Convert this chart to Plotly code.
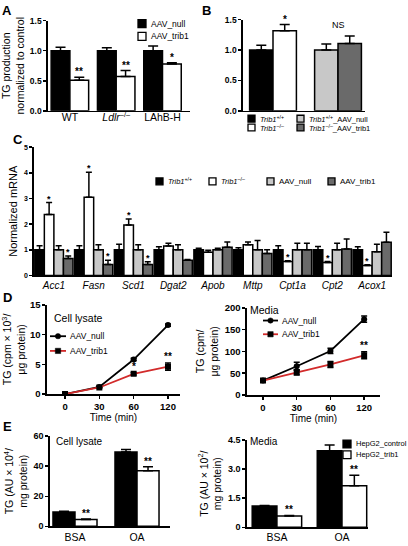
import plotly.graph_objects as go

W, H = 408, 546
def X(px): return px / W
def Y(py): return 1 - py / H

FONT = "Liberation Sans, Arial, Helvetica, sans-serif"
BLACK = "#000000"
WHITE = "#ffffff"
LIGHT = "#c8c8c8"
DARK = "#6a6a6a"
RED = "#d22b2b"

# ---------------- data ----------------
# Panel A
A_groups = ["WT", "Ldlr-/-", "LAhB-H"]
A_ticktext = ["WT", "<i>Ldlr</i><sup>–/–</sup>", "LAhB-H"]
A_null = [1.00, 1.00, 1.00]
A_null_err = [0.06, 0.05, 0.08]
A_trib1 = [0.51, 0.57, 0.78]
A_trib1_err = [0.05, 0.10, 0.02]
A_sig = ["**", "**", "*"]
A_yticks = [0.0, 0.5, 1.0, 1.5]

# Panel B
B_groups = ["Trib1", "AAV"]
B_first = [1.00, 1.00]          # Trib1+/+ , Trib1+/+_AAV_null
B_first_err = [0.08, 0.10]
B_second = [1.32, 1.11]         # Trib1-/- , Trib1-/-_AAV_trib1
B_second_err = [0.10, 0.12]
B_second_sig = ["*", ""]
B_group_note = ["", "NS"]
B_yticks = [0.0, 0.5, 1.0, 1.5]

# Panel C
C_genes = ["Acc1", "Fasn", "Scd1", "Dgat2", "Apob", "Mttp", "Cpt1a", "Cpt2", "Acox1"]
C_wt = [1.00, 1.00, 1.00, 1.00, 1.00, 1.00, 1.00, 1.00, 1.00]
C_wt_err = [0.16, 0.16, 0.22, 0.12, 0.06, 0.08, 0.16, 0.13, 0.12]
C_ko = [2.37, 3.05, 1.97, 1.15, 0.90, 1.20, 0.54, 0.50, 0.39]
C_ko_err = [0.47, 0.97, 0.23, 0.10, 0.08, 0.10, 0.03, 0.04, 0.03]
C_ko_sig = ["*", "*", "*", "", "", "", "*", "*", "*"]
C_null = [1.00, 1.00, 1.00, 1.00, 1.00, 1.00, 1.00, 1.00, 0.92]
C_null_err = [0.16, 0.20, 0.20, 0.20, 0.06, 0.36, 0.25, 0.25, 0.30]
C_trib1 = [0.66, 0.43, 0.43, 0.59, 1.10, 0.86, 1.00, 1.03, 1.29]
C_trib1_err = [0.10, 0.16, 0.10, 0.03, 0.20, 0.14, 0.25, 0.39, 0.39]
C_trib1_sig = ["*", "*", "*", "", "", "", "", "", ""]
C_yticks = [0, 1, 2, 3, 4, 5]

# Panel D
D_time = ["0", "30", "60", "120"]
D_lys_null = [0.0, 1.2, 5.8, 11.6]
D_lys_null_err = [0.1, 0.1, 0.2, 0.2]
D_lys_trib1 = [0.0, 1.1, 3.4, 4.6]
D_lys_trib1_err = [0.1, 0.1, 0.2, 0.6]
D_lys_sig = ["", "", "*", "**"]
D_med_null = [33, 66, 101, 174]
D_med_null_err = [3, 9, 6, 7]
D_med_trib1 = [33, 52, 70, 91]
D_med_trib1_err = [3, 6, 7, 8]
D_med_sig = ["", "", "*", "**"]
D_lys_yticks = [0, 5, 10, 15]
D_med_yticks = [0, 50, 100, 150, 200]

# Panel E
E_groups = ["BSA", "OA"]
E_lys_ctrl = [9.6, 49.5]
E_lys_ctrl_err = [0.5, 1.6]
E_lys_trib1 = [4.5, 37.0]
E_lys_trib1_err = [0.4, 2.6]
E_lys_sig = ["**", "**"]
E_med_ctrl = [1.10, 3.95]
E_med_ctrl_err = [0.03, 0.30]
E_med_trib1 = [0.58, 2.14]
E_med_trib1_err = [0.03, 0.55]
E_med_sig = ["**", "**"]
E_lys_yticks = [0, 20, 40, 60]
E_med_yticks = [0, 1.5, 3.0, 4.5]
E_med_yticktext = ["0", "1.5", "3.0", "4.5"]

# ---------------- figure ----------------
fig = go.Figure()
annotations = []
shapes = []

def err(arr, width=4):
    return dict(type="data", array=arr, arrayminus=[0] * len(arr), symmetric=False,
                color=BLACK, thickness=1.5, width=width)

def err_sym(arr, width=3):
    return dict(type="data", array=arr, color=BLACK, thickness=1.5, width=width)

def bar(x, y, e, color, xa, ya, w, off, ew=4):
    fig.add_trace(go.Bar(x=x, y=y, error_y=err(e, ew), width=w, offset=off,
                         marker=dict(color=color, line=dict(color=BLACK, width=1.5)),
                         xaxis=xa, yaxis=ya, showlegend=False, hoverinfo="skip"))

def star(xref, yref, x, y, text, size=10, shift=0, bold=True):
    annotations.append(dict(x=x, y=y, xref=xref, yref=yref, text=text, showarrow=False,
                            yanchor="bottom", yshift=shift,
                            font=dict(size=size, family=FONT, color=BLACK,
                                      weight="bold" if bold else "normal")))

# A
wA = 0.405
xA = list(range(len(A_groups)))
bar(xA, A_null, A_null_err, BLACK, "x", "y", wA, -wA, 5)
bar(xA, A_trib1, A_trib1_err, WHITE, "x", "y", wA, 0, 5)
for i, s in enumerate(A_sig):
    star("x", "y", i + wA / 2, A_trib1[i] + A_trib1_err[i], s, 10, -2)

# B
wB = 0.36
xB = list(range(len(B_groups)))
bar(xB, B_first, B_first_err, [BLACK, LIGHT], "x2", "y2", wB, -wB, 5)
bar(xB, B_second, B_second_err, [WHITE, DARK], "x2", "y2", wB, 0, 5)
for i, s in enumerate(B_second_sig):
    if s:
        star("x2", "y2", i + wB / 2, B_second[i] + B_second_err[i], s, 10, -2)
for i, s in enumerate(B_group_note):
    if s:
        top = max(B_first[i] + B_first_err[i], B_second[i] + B_second_err[i])
        star("x2", "y2", i, top, s, 9, 4, False)

# C
wC = 0.24
xs = list(range(len(C_genes)))
bar(xs, C_wt, C_wt_err, BLACK, "x3", "y3", wC, -2 * wC, 3)
bar(xs, C_ko, C_ko_err, WHITE, "x3", "y3", wC, -wC, 3)
bar(xs, C_null, C_null_err, LIGHT, "x3", "y3", wC, 0, 3)
bar(xs, C_trib1, C_trib1_err, DARK, "x3", "y3", wC, wC, 3)
for i in xs:
    if C_ko_sig[i]:
        star("x3", "y3", i - wC / 2, C_ko[i] + C_ko_err[i], C_ko_sig[i], 9, -3)
    if C_trib1_sig[i]:
        star("x3", "y3", i + 1.5 * wC, C_trib1[i] + C_trib1_err[i], C_trib1_sig[i], 9, -3)

# D
xD = list(range(len(D_time)))
def line(y, e, color, symbol, xa, ya):
    fig.add_trace(go.Scatter(x=xD, y=y, mode="lines+markers", error_y=err_sym(e, 3),
                             line=dict(color=color, width=1.8),
                             marker=dict(color=BLACK, symbol=symbol, size=6),
                             xaxis=xa, yaxis=ya, showlegend=False, hoverinfo="skip"))

line(D_lys_null, D_lys_null_err, BLACK, "circle", "x4", "y4")
line(D_lys_trib1, D_lys_trib1_err, RED, "square", "x4", "y4")
line(D_med_null, D_med_null_err, BLACK, "circle", "x5", "y5")
line(D_med_trib1, D_med_trib1_err, RED, "square", "x5", "y5")
for i, s in enumerate(D_lys_sig):
    if s:
        star("x4", "y4", i, D_lys_trib1[i] + D_lys_trib1_err[i], s, 10, -1)
for i, s in enumerate(D_med_sig):
    if s:
        star("x5", "y5", i, D_med_trib1[i] + D_med_trib1_err[i], s, 10, -1)

# E
wE1 = 0.355
xE = list(range(len(E_groups)))
bar(xE, E_lys_ctrl, E_lys_ctrl_err, BLACK, "x6", "y6", wE1, -wE1, 5)
bar(xE, E_lys_trib1, E_lys_trib1_err, WHITE, "x6", "y6", wE1, 0, 5)
for i, s in enumerate(E_lys_sig):
    star("x6", "y6", i + wE1 / 2, E_lys_trib1[i] + E_lys_trib1_err[i], s, 10, -2)
wE2 = 0.38
bar(xE, E_med_ctrl, E_med_ctrl_err, BLACK, "x7", "y7", wE2, -wE2, 5)
bar(xE, E_med_trib1, E_med_trib1_err, WHITE, "x7", "y7", wE2, 0, 5)
for i, s in enumerate(E_med_sig):
    star("x7", "y7", i + wE2 / 2, E_med_trib1[i] + E_med_trib1_err[i], s, 10, -2)

# ---------------- axes ----------------
def xaxis(dom, rng, anchor, tickvals=None, ticktext=None, size=10.5, style="normal",
          ticks="", title=None, visible_labels=True, standoff=0):
    d = dict(domain=[X(dom[0]), X(dom[1])], range=rng, anchor=anchor, type="linear",
             showline=True, linecolor=BLACK, linewidth=1.6, showgrid=False, zeroline=False,
             ticks=ticks, ticklen=3, tickwidth=1.5, tickcolor=BLACK,
             showticklabels=visible_labels, fixedrange=True, ticklabelstandoff=standoff,
             tickfont=dict(family=FONT, size=size, color=BLACK, style=style,
                           weight="bold" if ticks else "normal"))
    if tickvals is not None:
        d.update(tickmode="array", tickvals=tickvals, ticktext=ticktext)
    if title:
        d["title"] = dict(text=title, font=dict(family=FONT, size=10, color=BLACK), standoff=1)
    return d

def yaxis(dom, rng, anchor, tickvals, ticktext, size=8.5, title=None, tsize=10.5, standoff=4):
    d = dict(domain=[Y(dom[1]), Y(dom[0])], range=rng, anchor=anchor,
             showline=True, linecolor=BLACK, linewidth=1.6, showgrid=False, zeroline=False,
             ticks="outside", ticklen=3, tickwidth=1.5, tickcolor=BLACK, fixedrange=True,
             tickmode="array", tickvals=tickvals, ticktext=ticktext,
             tickfont=dict(family=FONT, size=size, color=BLACK, weight="bold"))
    if title:
        d["title"] = dict(text=title, font=dict(family=FONT, size=tsize, color=BLACK),
                          standoff=standoff)
    return d

layout = dict(
    xaxis=xaxis((48, 190), [-0.473, 2.594], "y", xA, A_ticktext, 10.5, standoff=-4),
    yaxis=yaxis((15, 107), [0, 1.5], "x", A_yticks, [f"{v:.1f}" for v in A_yticks], 8.5,
                "TG production<br>normalized to control", 10.5, 4),
    xaxis2=xaxis((243, 365), [-0.4615, 1.415], "y2", visible_labels=False),
    yaxis2=yaxis((14, 107), [0, 1.5], "x2", B_yticks, [f"{v:.1f}" for v in B_yticks], 8.5),
    xaxis3=xaxis((34, 392), [-0.5, len(C_genes) - 0.5], "y3", xs, C_genes, 10, "italic"),
    yaxis3=yaxis((144, 275), [0, 5], "x3", C_yticks, [str(v) for v in C_yticks], 7,
                 "Normalized mRNA", 11, 4),
    xaxis4=xaxis((47, 180), [-0.525, 3.35], "y4", xD, D_time, 9.5,
                 ticks="outside", title="Time (min)"),
    yaxis4=yaxis((305, 396), [0, 15], "x4", D_lys_yticks, [str(v) for v in D_lys_yticks], 9.5,
                 "TG (cpm × 10<sup>3</sup>/<br>μg protein)", 10.5, 4),
    xaxis5=xaxis((247, 380), [-0.475, 3.47], "y5", xD, D_time, 9.5,
                 ticks="outside", title="Time (min)"),
    yaxis5=yaxis((308, 397), [0, 200], "x5", D_med_yticks, [str(v) for v in D_med_yticks], 9.5,
                 "TG (cpm/<br>μg protein)", 10.5, 4),
    xaxis6=xaxis((50, 170), [-0.403, 1.532], "y6", xE, E_groups, 10.5),
    yaxis6=yaxis((439, 531), [0, 60], "x6", E_lys_yticks, [str(v) for v in E_lys_yticks], 9,
                 "TG (AU × 10<sup>4</sup>/<br>mg protein)", 10.5, 4),
    xaxis7=xaxis((247, 368), [-0.46, 1.40], "y7", xE, E_groups, 10.5),
    yaxis7=yaxis((443, 532), [0, 4.5], "x7", E_med_yticks, E_med_yticktext, 9,
                 "TG (AU × 10<sup>2</sup>/<br>mg protein)", 10.5, 4),
)

# ---------------- panel letters, titles ----------------
def txt(px, py, text, size, bold=False, anchor="left"):
    annotations.append(dict(x=X(px), y=Y(py), xref="paper", yref="paper", text=text,
                            showarrow=False, xanchor=anchor, yanchor="middle",
                            font=dict(family=FONT, size=size, color=BLACK,
                                      weight="bold" if bold else "normal")))

txt(0, 5, "A", 13, True)
txt(200, 5, "B", 13, True)
txt(11, 136, "C", 13, True)
txt(1, 297, "D", 13, True)
txt(1, 429, "E", 13, True)

txt(52, 318, "Cell lysate", 10.5)
txt(248, 310, "Media", 10.5)
txt(54, 444, "Cell lysate", 10)
txt(248, 444, "Media", 10)

# ---------------- custom legends ----------------
def sq(px, py, size, color):
    shapes.append(dict(type="rect", xref="paper", yref="paper",
                       x0=X(px), x1=X(px + size), y0=Y(py + size), y1=Y(py),
                       fillcolor=color, line=dict(color=BLACK, width=1.3)))

def legend_item(px, py, size, color, label, fsize):
    sq(px, py - size / 2, size, color)
    txt(px + size + 3, py, label, fsize)

# A legend
legend_item(138, 18, 8, BLACK, "AAV_null", 8.5)
legend_item(138, 31, 8, WHITE, "AAV_trib1", 8.5)
# B legend
legend_item(248, 115, 7, BLACK, "<i>Trib1</i><sup>+/+</sup>", 7.5)
legend_item(297, 115, 7, LIGHT, "<i>Trib1</i><sup>+/+</sup>_AAV_null", 7.5)
legend_item(248, 124, 7, WHITE, "<i>Trib1</i><sup>–/–</sup>", 7.5)
legend_item(297, 124, 7, DARK, "<i>Trib1</i><sup>–/–</sup>_AAV_trib1", 7.5)
# C legend
legend_item(156, 179, 7, BLACK, "<i>Trib1</i><sup>+/+</sup>", 7.5)
legend_item(209, 179, 7, WHITE, "<i>Trib1</i><sup>–/–</sup>", 7.5)
legend_item(267, 179, 7, LIGHT, "AAV_null", 8)
legend_item(328, 179, 7, DARK, "AAV_trib1", 8)
# E legend
legend_item(343, 447, 8, BLACK, "HepG2_control", 7.5)
legend_item(343, 458, 8, WHITE, "HepG2_trib1", 7.5)

# D legends (line + marker)
def line_item(x0, x1, py, color, marker, label):
    shapes.append(dict(type="line", xref="paper", yref="paper", x0=X(x0), x1=X(x1),
                       y0=Y(py), y1=Y(py), line=dict(color=color, width=1.8)))
    cx = (x0 + x1) / 2
    shapes.append(dict(type=marker, xref="paper", yref="paper",
                       x0=X(cx - 2.7), x1=X(cx + 2.7), y0=Y(py + 2.7), y1=Y(py - 2.7),
                       fillcolor=BLACK, line=dict(color=BLACK, width=0.5)))
    txt(x1 + 2, py, label, 8.5)

line_item(50, 66, 337, BLACK, "circle", "AAV_null")
line_item(50, 66, 352, RED, "rect", "AAV_trib1")
line_item(263, 278, 321, BLACK, "circle", "AAV_null")
line_item(263, 278, 335, RED, "rect", "AAV_trib1")

fig.update_layout(**layout)
fig.update_layout(width=W, height=H, margin=dict(l=0, r=0, t=0, b=0),
                  paper_bgcolor="white", plot_bgcolor="white", showlegend=False,
                  hovermode=False,
                  font=dict(family=FONT, color=BLACK), annotations=annotations, shapes=shapes)

fig.write_html("out.html", config={"displayModeBar": False, "staticPlot": True},
               post_script="document.body.style.margin='0';document.body.style.overflow='hidden';")
